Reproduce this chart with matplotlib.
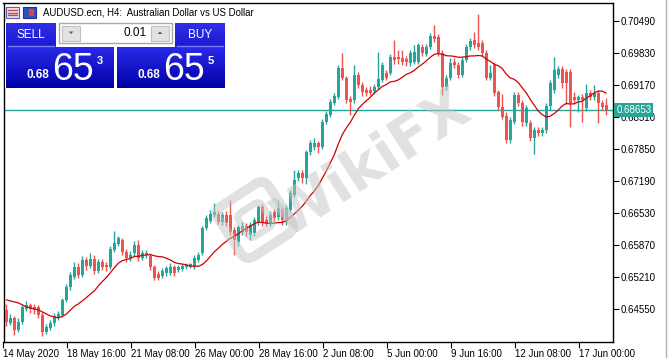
import numpy as np
import pandas as pd
import matplotlib
matplotlib.use("Agg")
import matplotlib.pyplot as plt
from matplotlib.patches import Rectangle, FancyBboxPatch, Polygon
from matplotlib.transforms import Affine2D, IdentityTransform, blended_transform_factory
from matplotlib.lines import Line2D

# ---------------- data (AUDUSD H4) ----------------
opens = [0.64537, 0.64269, 0.64372, 0.64125, 0.64290, 0.64557, 0.64640, 0.64599, 0.64599, 0.64434,
         0.64083, 0.64166, 0.64269, 0.64372, 0.64434, 0.64743, 0.65011, 0.65217, 0.65424, 0.65259,
         0.65568, 0.65444, 0.65588, 0.65341, 0.65527, 0.65465, 0.65424, 0.65774, 0.65898, 0.65981,
         0.65733, 0.65609, 0.65712, 0.65877, 0.65609, 0.65671, 0.65650, 0.65424, 0.65279, 0.65238,
         0.65300, 0.65300, 0.65424, 0.65362, 0.65382, 0.65424, 0.65424, 0.65424, 0.65568, 0.65712,
         0.66228, 0.66372, 0.66496, 0.66516, 0.66351, 0.66496, 0.66496, 0.66187, 0.65939, 0.66145,
         0.66269, 0.66083, 0.66125, 0.66351, 0.66661, 0.66393, 0.66331, 0.66558, 0.66454, 0.66599,
         0.66351, 0.66599, 0.66908, 0.67259, 0.67362, 0.67259, 0.67795, 0.67898, 0.67981, 0.67898,
         0.68413, 0.68558, 0.68805, 0.68929, 0.69527, 0.69321, 0.68888, 0.68867, 0.69383, 0.69176,
         0.69073, 0.69073, 0.69053, 0.69135, 0.69279, 0.69424, 0.69424, 0.69754, 0.69754, 0.69733,
         0.69712, 0.69630, 0.69651, 0.69651, 0.69960, 0.69815, 0.69960, 0.70187, 0.70166, 0.69836,
         0.69135, 0.69321, 0.69651, 0.69589, 0.69383, 0.69692, 0.69960, 0.70104, 0.70042, 0.70042,
         0.69836, 0.69321, 0.69589, 0.69032, 0.68723, 0.68537, 0.68042, 0.68413, 0.68970, 0.68805,
         0.68393, 0.68393, 0.68084, 0.68248, 0.68187, 0.68248, 0.68743, 0.69073, 0.69383, 0.69506,
         0.69444, 0.69444, 0.68929, 0.68867, 0.68929, 0.68702, 0.69011, 0.68929, 0.69011, 0.68805,
         0.68764]
highs = [0.64660, 0.64454, 0.64413, 0.64372, 0.64640, 0.64722, 0.64681, 0.64660, 0.64640, 0.64496,
         0.64248, 0.64331, 0.64475, 0.64516, 0.64784, 0.65073, 0.65321, 0.65527, 0.65506, 0.65650,
         0.65630, 0.65712, 0.65671, 0.65588, 0.65588, 0.65527, 0.65857, 0.66166, 0.66063, 0.66022,
         0.65795, 0.65753, 0.65960, 0.65981, 0.65774, 0.65774, 0.65712, 0.65465, 0.65341, 0.65403,
         0.65444, 0.65506, 0.65465, 0.65465, 0.65485, 0.65506, 0.65506, 0.65671, 0.65733, 0.66269,
         0.66496, 0.66599, 0.66743, 0.66578, 0.66558, 0.66578, 0.66805, 0.66248, 0.66290, 0.66351,
         0.66331, 0.66351, 0.66454, 0.66702, 0.66723, 0.66475, 0.66578, 0.66619, 0.66805, 0.66661,
         0.66702, 0.67011, 0.67424, 0.67424, 0.67424, 0.67836, 0.68042, 0.68084, 0.68022, 0.68475,
         0.68640, 0.68888, 0.69011, 0.69589, 0.69836, 0.69362, 0.68949, 0.69589, 0.69444, 0.69238,
         0.69135, 0.69156, 0.69197, 0.69857, 0.69651, 0.69486, 0.69815, 0.70104, 0.69898, 0.69898,
         0.69774, 0.69898, 0.70001, 0.70042, 0.70022, 0.70022, 0.70249, 0.70414, 0.70228, 0.69898,
         0.69383, 0.69733, 0.69733, 0.69651, 0.69754, 0.70022, 0.70145, 0.70269, 0.70640, 0.70104,
         0.69898, 0.69589, 0.69651, 0.69073, 0.68991, 0.68620, 0.68517, 0.69032, 0.69032, 0.68867,
         0.68764, 0.68455, 0.68310, 0.68310, 0.68310, 0.68805, 0.69279, 0.69754, 0.69568, 0.69568,
         0.69506, 0.69506, 0.69032, 0.68970, 0.68991, 0.69197, 0.69073, 0.69176, 0.69073, 0.68867,
         0.68908]
lows = [0.64207, 0.64228, 0.64022, 0.64083, 0.64248, 0.64516, 0.64475, 0.64454, 0.64372, 0.64001,
        0.64042, 0.64125, 0.64207, 0.64331, 0.64392, 0.64702, 0.64949, 0.65176, 0.65197, 0.65217,
        0.65362, 0.65403, 0.65279, 0.65300, 0.65362, 0.65341, 0.65382, 0.65733, 0.65857, 0.65671,
        0.65527, 0.65547, 0.65650, 0.65547, 0.65568, 0.65609, 0.65362, 0.65156, 0.65156, 0.65197,
        0.65238, 0.65259, 0.65238, 0.65321, 0.65341, 0.65382, 0.65403, 0.65382, 0.65527, 0.65671,
        0.66187, 0.66331, 0.66454, 0.66310, 0.66290, 0.66269, 0.66083, 0.65671, 0.65857, 0.66083,
        0.66063, 0.65981, 0.66063, 0.66290, 0.66269, 0.66269, 0.66269, 0.66351, 0.66393, 0.66290,
        0.66290, 0.66558, 0.66867, 0.67197, 0.67156, 0.67135, 0.67733, 0.67836, 0.67774, 0.67857,
        0.68372, 0.68517, 0.68764, 0.68888, 0.69279, 0.68805, 0.68558, 0.68805, 0.69114, 0.68949,
        0.68949, 0.68970, 0.68991, 0.69094, 0.69238, 0.69279, 0.69383, 0.69609, 0.69609, 0.69589,
        0.69568, 0.69568, 0.69609, 0.69609, 0.69774, 0.69774, 0.69919, 0.70063, 0.69774, 0.68970,
        0.69073, 0.69279, 0.69527, 0.69321, 0.69341, 0.69651, 0.69898, 0.69939, 0.69898, 0.69774,
        0.69279, 0.69279, 0.68949, 0.68661, 0.68475, 0.67981, 0.67981, 0.68372, 0.68743, 0.68331,
        0.68331, 0.68022, 0.67754, 0.68125, 0.68125, 0.68187, 0.68661, 0.69011, 0.69321, 0.69114,
        0.68784, 0.68310, 0.68784, 0.68620, 0.68413, 0.68640, 0.68867, 0.68867, 0.68393, 0.68661,
        0.68558]
closes = [0.64290, 0.64372, 0.64125, 0.64290, 0.64599, 0.64640, 0.64557, 0.64537, 0.64434, 0.64083,
          0.64186, 0.64269, 0.64413, 0.64454, 0.64743, 0.65011, 0.65259, 0.65424, 0.65259, 0.65568,
          0.65444, 0.65588, 0.65341, 0.65527, 0.65424, 0.65424, 0.65795, 0.65919, 0.66022, 0.65733,
          0.65609, 0.65671, 0.65877, 0.65609, 0.65712, 0.65712, 0.65424, 0.65197, 0.65197, 0.65341,
          0.65403, 0.65424, 0.65300, 0.65424, 0.65444, 0.65465, 0.65485, 0.65609, 0.65671, 0.66228,
          0.66434, 0.66516, 0.66558, 0.66351, 0.66496, 0.66331, 0.66145, 0.65981, 0.66248, 0.66269,
          0.66145, 0.66290, 0.66393, 0.66661, 0.66331, 0.66331, 0.66496, 0.66434, 0.66640, 0.66393,
          0.66640, 0.66949, 0.67217, 0.67362, 0.67259, 0.67795, 0.67981, 0.67981, 0.67898, 0.68413,
          0.68578, 0.68826, 0.68949, 0.69527, 0.69321, 0.68867, 0.68826, 0.69383, 0.69176, 0.69032,
          0.69011, 0.69011, 0.69135, 0.69300, 0.69589, 0.69321, 0.69754, 0.69692, 0.69712, 0.69651,
          0.69651, 0.69836, 0.69857, 0.70001, 0.69836, 0.69960, 0.70187, 0.70125, 0.69836, 0.69135,
          0.69321, 0.69630, 0.69589, 0.69383, 0.69692, 0.69960, 0.70083, 0.70001, 0.69960, 0.69836,
          0.69321, 0.69424, 0.69011, 0.68723, 0.68517, 0.68042, 0.68455, 0.68970, 0.68805, 0.68413,
          0.68702, 0.68084, 0.68248, 0.68187, 0.68248, 0.68743, 0.69218, 0.69486, 0.69506, 0.69218,
          0.69218, 0.68805, 0.68867, 0.68929, 0.68867, 0.69011, 0.68929, 0.69011, 0.68805, 0.68723,
          0.68653]
# moving average values before enough history is visible
ma_head = [0.64743, 0.64722, 0.64702, 0.64681, 0.64640, 0.64599, 0.64578, 0.64557, 0.64537, 0.64496,
           0.64454, 0.64413, 0.64392]
ma_period = 14

x_tick_labels = ["14 May 2020", "18 May 16:00", "21 May 08:00", "26 May 00:00", "28 May 16:00",
                 "2 Jun 08:00", "5 Jun 00:00", "9 Jun 16:00", "12 Jun 08:00", "17 Jun 00:00"]
x_tick_bars = [0, 16, 32, 48, 64, 80, 96, 112, 128, 144]
y_ticks = [0.70490, 0.69830, 0.69170, 0.68510, 0.67850, 0.67190, 0.66530, 0.65870, 0.65210, 0.64550]
last_price = 0.68653
title_text = "AUDUSD.ecn, H4:  Australian Dollar vs US Dollar"
lot_text = "0.01"
sell_quote = ("0.68", "65", "3")
buy_quote = ("0.68", "65", "5")

# ---------------- styling ----------------
UP = "#26a69a"
DN = "#ef5350"
MA_C = "#d00000"
FONT = "Liberation Sans"
W, H = 668, 358

fig = plt.figure(figsize=(W / 100, H / 100), dpi=100)
fig.patch.set_facecolor("white")
ax_l, ax_r, ax_t, ax_b = 3.5, 612.5, 2.5, 341.7
ax = fig.add_axes([ax_l / W, (H - ax_b) / H, (ax_r - ax_l) / W, (ax_b - ax_t) / H])

o = np.array(opens); h = np.array(highs); l = np.array(lows); c = np.array(closes)
n = len(c)
x = np.arange(n)
up = c >= o
cols = np.where(up, UP, DN)

ax.vlines(x, l, h, colors=cols, linewidth=1.0, zorder=2)
body = np.maximum(np.abs(c - o), 0.00004)
ax.bar(x, body, bottom=np.minimum(o, c), width=0.7, color=cols, linewidth=0, zorder=3)

ma = pd.Series(c).rolling(ma_period).mean().to_numpy()
ma[:len(ma_head)] = ma_head
ax.plot(x, ma, color=MA_C, lw=0.9, zorder=4)

ax.axhline(last_price, color=UP, lw=1.0, zorder=1)

ax.set_xlim(-0.4, 151.6)
ax.set_ylim(0.63883, 0.70867)

ax.set_yticks(y_ticks)
ax.set_yticklabels([f"{v:.5f}" for v in y_ticks])
ax.yaxis.tick_right()
ax.tick_params(axis="y", direction="out", length=4, width=0.8, pad=1.5,
               labelsize=7, colors="black")
ax.set_xticks([b - 0.75 for b in x_tick_bars])
ax.set_xticklabels(x_tick_labels)
for t in ax.get_xticklabels():
    t.set_horizontalalignment("left")
ax.tick_params(axis="x", direction="out", length=4, width=0.8, pad=1.0,
               labelsize=7, colors="black")
for t in ax.get_xticklabels() + ax.get_yticklabels():
    t.set_fontfamily(FONT)
for s in ax.spines.values():
    s.set_linewidth(1.0)
    s.set_color("black")

# price label on the right axis
trans = blended_transform_factory(ax.transAxes, ax.transData)
ax.text(1.006, last_price, f"{last_price:.5f}", transform=trans, ha="left", va="center",
        fontsize=7, family=FONT, color="white", zorder=10, clip_on=False,
        bbox=dict(boxstyle="square,pad=0.18", fc=UP, ec="none"))

# ---------------- overlay (title, trade panel, watermark) ----------------
ui = fig.add_axes([0, 0, 1, 1], zorder=5)
ui.set_xlim(0, W)
ui.set_ylim(H, 0)
ui.axis("off")
ui.patch.set_alpha(0)

# window right border
ui.add_line(Line2D([665.5, 665.5], [0, H], color="#b0b0b0", lw=1))

# watermark logo (rotated rounded square)
rot = Affine2D().rotate_deg_around(255, H - 220, 33) + IdentityTransform()
ui.add_patch(FancyBboxPatch((255 - 30, H - 220 - 30), 60, 60,
                            boxstyle="round,pad=0,rounding_size=10",
                            fc="none", ec="#c4c4c4", lw=7, alpha=0.5,
                            transform=rot, zorder=6))
ui.add_patch(FancyBboxPatch((255 - 14, H - 220 - 14), 28, 28,
                            boxstyle="round,pad=0,rounding_size=6",
                            fc="none", ec="#c4c4c4", lw=5, alpha=0.5,
                            transform=rot, zorder=6))
ui.text(372, 164, "WikiFX", rotation=33, ha="center", va="center", fontsize=41,
        fontweight="bold", family="DejaVu Sans", color="#c4c4c4", alpha=0.5, zorder=6,
        rotation_mode="anchor")

# title icons and text
ui.add_patch(Rectangle((6, 7), 13, 11, fc="#e8e8f8", ec="#5060b0", lw=0.8, zorder=7))
for yy in (10, 12.5, 15):
    ui.add_line(Line2D([8, 17], [yy, yy], color="#d04040", lw=1, zorder=8))
ui.add_patch(Rectangle((23, 7), 13, 11, fc="#3050c0", ec="#203090", lw=0.8, zorder=7))
ui.add_patch(Rectangle((29, 9), 5, 7, fc="#e04040", ec="none", zorder=8))
ui.text(43, 12.5, title_text, ha="left", va="center", fontsize=6.9, family=FONT,
        color="black", zorder=8)


def gradient_box(x0, y0, x1, y1, top, bot):
    g = np.linspace(0, 1, 64)[:, None, None]
    top = np.array(matplotlib.colors.to_rgb(top))[None, None, :]
    bot = np.array(matplotlib.colors.to_rgb(bot))[None, None, :]
    img = top * (1 - g) + bot * g
    ui.imshow(img, extent=(x0, x1, y1, y0), aspect="auto", zorder=7, interpolation="bilinear")


# panel background
ui.add_patch(Rectangle((5, 22), 222, 66, fc="white", ec="none", zorder=6.5))
# SELL / BUY buttons
gradient_box(6, 23, 56, 47, "#2f2fe6", "#1a1ad0")
gradient_box(175, 23, 225, 47, "#2f2fe6", "#1a1ad0")
ui.add_line(Line2D([8, 54], [45.5, 45.5], color="#7a7aff", lw=1, zorder=8))
ui.add_line(Line2D([177, 223], [45.5, 45.5], color="#7a7aff", lw=1, zorder=8))
ui.text(31, 34.5, "SELL", ha="center", va="center", fontsize=8.5, family=FONT,
        color="white", zorder=9)
ui.text(200, 34.5, "BUY", ha="center", va="center", fontsize=8.5, family=FONT,
        color="white", zorder=9)
# lot spinner
ui.add_patch(Rectangle((59, 23), 113, 20, fc="white", ec="#a8a8a8", lw=1, zorder=7))
ui.add_patch(Rectangle((62, 25.5), 18, 15, fc="#e2e2e2", ec="#c0c0c0", lw=0.8, zorder=8))
ui.add_patch(Rectangle((151, 25.5), 18, 15, fc="#e2e2e2", ec="#c0c0c0", lw=0.8, zorder=8))
ui.add_patch(Polygon([[68.5, 31.5], [73.5, 31.5], [71, 34]], closed=True, fc="#606060",
                     ec="none", zorder=9))
ui.add_patch(Polygon([[157.5, 34], [162.5, 34], [160, 31.5]], closed=True, fc="#606060",
                     ec="none", zorder=9))
ui.text(147, 33.5, lot_text, ha="right", va="center", fontsize=8.5, family=FONT,
        color="black", zorder=9)
# price boxes
gradient_box(6, 47, 114, 88, "#2a2ae8", "#0000a8")
gradient_box(117, 47, 225, 88, "#2a2ae8", "#0000a8")
fig.canvas.draw()
renderer = fig.canvas.get_renderer()
for (big0, big1, sup), xs in ((sell_quote, (49, 52)), (buy_quote, (160, 163))):
    ui.text(xs[0], 78.5, big0, ha="right", va="baseline", fontsize=8.5, fontweight="bold",
            family=FONT, color="white", zorder=9)
    tb = ui.text(xs[1], 80, big1, ha="left", va="baseline", fontsize=27,
                 family=["Liberation Sans Narrow", FONT], color="white", zorder=9)
    bb = tb.get_window_extent(renderer=renderer)
    x_end = ui.transData.inverted().transform((bb.x1, bb.y1))[0]
    ui.text(x_end + 3, 64.5, sup, ha="left", va="baseline", fontsize=8, fontweight="bold",
            family=FONT, color="white", zorder=9)

ui.set_xlim(0, W)
ui.set_ylim(H, 0)

fig.savefig("out.png", dpi=100, facecolor="white")
